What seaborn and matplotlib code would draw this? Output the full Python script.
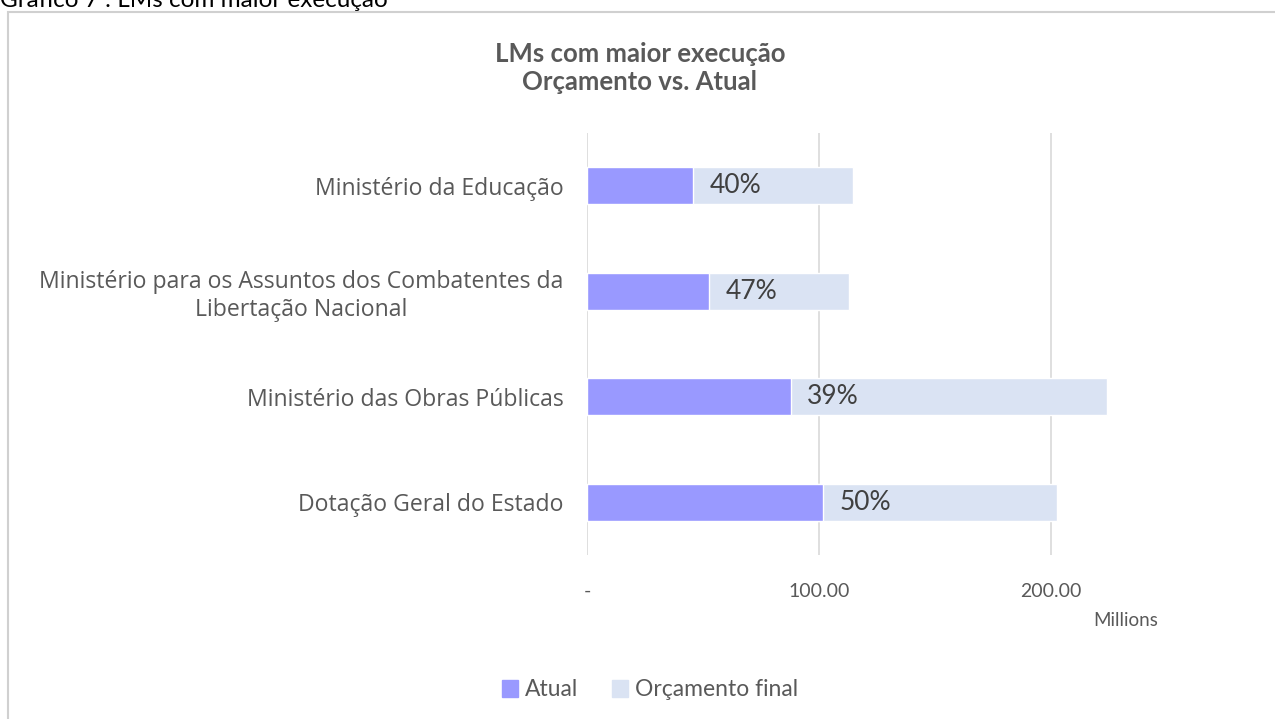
# LMs com maior execução - orçamento vs atual (horizontal overlapping bars)
import pandas as pd
import matplotlib.pyplot as plt
import seaborn as sns
from matplotlib.patches import Rectangle, Patch

# -------------- DATA ---------------
categories = [
    "Ministério da Educação",
    "Ministério para os Assuntos dos Combatentes da\nLibertação Nacional",
    "Ministério das Obras Públicas",
    "Dotação Geral do Estado",
]
atual = [45.7, 52.6, 87.9, 101.7]          # millions
orcamento_final = [114.7, 112.9, 224.1, 202.6]  # millions
pct_labels = ["40%", "47%", "39%", "50%"]
x_ticks = [0, 100, 200]
x_ticklabels = ["-", "100.00", "200.00"]

C_ATUAL = "#9999FF"
C_ORC = "#DAE3F3"
TXT = "#595959"

df = pd.DataFrame({"cat": categories, "atual": atual, "orc": orcamento_final})

sns.set_style("white")
plt.rcParams["font.family"] = ["Lato", "DejaVu Sans"]

fig = plt.figure(figsize=(12.75, 7.19), dpi=100)
ax = fig.add_axes([587 / 1275, 1 - 555 / 719, 580 / 1275, 422 / 719])

# background series first, then the actual on top
sns.barplot(data=df, y="cat", x="orc", color=C_ORC, width=0.35,
            orient="h", ax=ax, saturation=1, zorder=2)
sns.barplot(data=df, y="cat", x="atual", color=C_ATUAL, width=0.35,
            orient="h", ax=ax, saturation=1, zorder=3)

# percentage labels just after the actual bar
for i, (a, lab) in enumerate(zip(atual, pct_labels)):
    ax.text(a + 7, i, lab, va="center", ha="left", fontsize=19,
            color="#404040", zorder=4)

ax.set_xlim(0, 250)
ax.set_xticks(x_ticks)
ax.set_xticklabels(x_ticklabels, fontsize=14, color=TXT)
ax.set_yticks(range(len(categories)))
ax.set_yticklabels(categories, fontsize=16.6, color=TXT, multialignment="center",
                   family=["Open Sans", "DejaVu Sans"])
ax.tick_params(axis="x", length=0, pad=20)
ax.tick_params(axis="y", length=0, pad=17)
ax.set_xlabel("")
ax.set_ylabel("")
ax.xaxis.grid(True, color="#d9d9d9", linewidth=1.2, zorder=0)
ax.set_axisbelow(True)
for s in ax.spines.values():
    s.set_visible(False)

# "Millions" unit label
fig.text(1158 / 1275, 1 - 620 / 719, "Millions", ha="right", va="center",
         fontsize=13.5, color=TXT)

# title
fig.text(640 / 1275, 1 - 68 / 719, "LMs com maior execução\nOrçamento vs. Atual",
         ha="center", va="center", fontsize=18.5, fontweight="bold",
         color=TXT, linespacing=1.25)

# legend
handles = [Patch(color=C_ATUAL, label="Atual"), Patch(color=C_ORC, label="Orçamento final")]
fig.legend(handles=handles, loc="center", bbox_to_anchor=(650 / 1275, 1 - 690 / 719),
           ncol=2, frameon=False, fontsize=16.5, handlelength=0.7, handleheight=0.7,
           handletextpad=0.3, columnspacing=1.5, labelcolor=TXT)

# chart border and cropped caption
fig.patches.append(Rectangle((8 / 1275, -0.05), 1.1, 1 - 12 / 719 + 0.05,
                             transform=fig.transFigure, fill=False,
                             edgecolor="#d0d0d0", linewidth=1.5))
fig.text(0.0, 1 - 7 / 719, "Gráfico 7 : LMs com maior execução", ha="left",
         va="baseline", fontsize=17.5, color="black")

fig.savefig("out.png", dpi=100)
